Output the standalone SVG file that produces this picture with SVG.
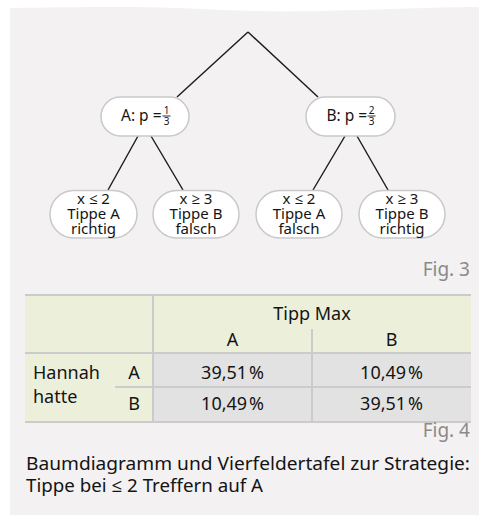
<svg xmlns="http://www.w3.org/2000/svg" width="479" height="516" viewBox="0 0 479 516">
<style>
.t{font-family:"Noto Sans","Open Sans","DejaVu Sans",sans-serif;fill:#141414}
.c{text-anchor:middle}
.pill{fill:#fff;stroke:#c9c9c9;stroke-width:1.5}
.edge{stroke:#1a1a1a;stroke-width:1.4;fill:none}
.fig{font-family:"Noto Sans","Open Sans",sans-serif;fill:#8a8a8a;font-size:19px;text-anchor:end}
.grid{stroke:#cbcbcb;stroke-width:2;fill:none}
.tb{font-size:18px}
.lf{font-size:15px}
</style>
<rect width="479" height="516" fill="#fff"/>
<path d="M10 8 C 90 7, 140 6, 200 9 C 260 12, 300 12, 360 10 C 420 8, 460 7, 479 7 L479 515 L10 515 Z" fill="#f3f1f2"/>
<g id="connectors">
<line class="edge" x1="248" y1="32" x2="177" y2="97"/>
<line class="edge" x1="248" y1="32" x2="318" y2="97"/>
<line class="edge" x1="138" y1="136" x2="108" y2="190"/>
<line class="edge" x1="151" y1="136" x2="183" y2="190"/>
<line class="edge" x1="345" y1="136" x2="313" y2="190"/>
<line class="edge" x1="357" y1="136" x2="388" y2="190"/>
</g>
<g id="nodeA">
<rect class="pill" x="101" y="97" width="88" height="39" rx="19.5"/>
<text class="t" x="121" y="121" font-size="15.5">A: p =</text>
<text class="t c" x="166.5" y="114" font-size="10">1</text>
<line x1="162.5" y1="116" x2="170.5" y2="116" stroke="#1a1a1a" stroke-width="0.9"/>
<text class="t c" x="166.5" y="125" font-size="10">3</text>
</g>
<g id="nodeB">
<rect class="pill" x="306" y="97" width="89" height="39" rx="19.5"/>
<text class="t" x="326.5" y="121" font-size="15.5">B: p =</text>
<text class="t c" x="371.5" y="114" font-size="10">2</text>
<line x1="367.5" y1="116" x2="375.5" y2="116" stroke="#1a1a1a" stroke-width="0.9"/>
<text class="t c" x="371.5" y="125" font-size="10">3</text>
</g>
<g id="leaf1">
<rect class="pill" x="50" y="190.5" width="87" height="47.5" rx="23.75"/>
<text class="t c lf"><tspan x="93.5" y="204">x ≤ 2</tspan><tspan x="93.5" y="219">Tippe A</tspan><tspan x="93.5" y="234">richtig</tspan></text>
</g>
<g id="leaf2">
<rect class="pill" x="153" y="190.5" width="86" height="47.5" rx="23.75"/>
<text class="t c lf"><tspan x="196" y="204">x ≥ 3</tspan><tspan x="196" y="219">Tippe B</tspan><tspan x="196" y="234">falsch</tspan></text>
</g>
<g id="leaf3">
<rect class="pill" x="256" y="190.5" width="86" height="47.5" rx="23.75"/>
<text class="t c lf"><tspan x="299" y="204">x ≤ 2</tspan><tspan x="299" y="219">Tippe A</tspan><tspan x="299" y="234">falsch</tspan></text>
</g>
<g id="leaf4">
<rect class="pill" x="359" y="190.5" width="86" height="47.5" rx="23.75"/>
<text class="t c lf"><tspan x="402" y="204">x ≥ 3</tspan><tspan x="402" y="219">Tippe B</tspan><tspan x="402" y="234">richtig</tspan></text>
</g>
<text class="fig" x="470" y="276">Fig. 3</text>
<g id="table">
<rect x="25" y="295" width="446" height="127" fill="#ecf0db"/>
<rect x="153" y="353" width="318" height="69" fill="#e2e2e2"/>
<path class="grid" d="M25 295 H471 M25 353 H471 M115 387 H471 M25 422 H471 M153 295 V422 M312 329 V422"/>
<text class="t c tb" x="312" y="320">Tipp Max</text>
<text class="t c tb" x="232.5" y="346">A</text>
<text class="t c tb" x="391.5" y="346">B</text>
<text class="t tb" x="33" y="379">Hannah</text>
<text class="t tb" x="33" y="403">hatte</text>
<text class="t c tb" x="134" y="379">A</text>
<text class="t c tb" x="134" y="410">B</text>
<text class="t c tb" x="232.5" y="379">39,51&#8202;%</text>
<text class="t c tb" x="391.5" y="379">10,49&#8202;%</text>
<text class="t c tb" x="232.5" y="410">10,49&#8202;%</text>
<text class="t c tb" x="391.5" y="410">39,51&#8202;%</text>
</g>
<text class="fig" x="470" y="437">Fig. 4</text>
<text class="t" x="26" y="470" font-size="18.5" textLength="444" lengthAdjust="spacingAndGlyphs">Baumdiagramm und Vierfeldertafel zur Strategie:</text>
<text class="t" x="26" y="492" font-size="18.5" textLength="237" lengthAdjust="spacingAndGlyphs">Tippe bei ≤ 2 Treffern auf A</text>
</svg>
